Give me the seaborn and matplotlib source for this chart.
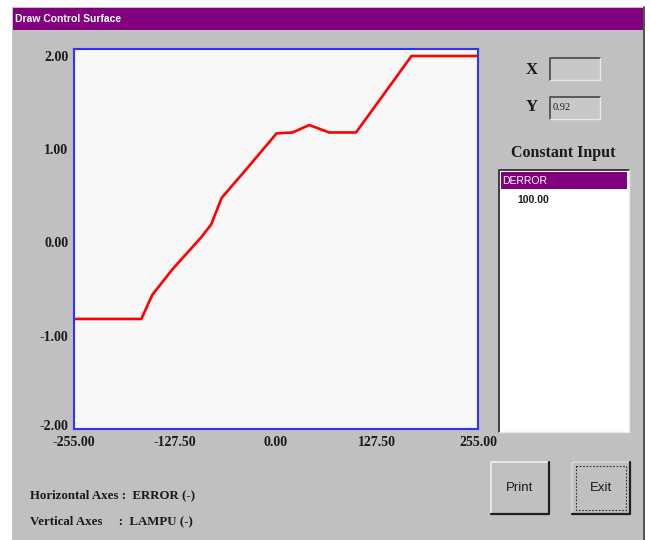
import numpy as np
import pandas as pd
import matplotlib
matplotlib.use("Agg")
import matplotlib.pyplot as plt
import matplotlib.patches as mpatches
import matplotlib.transforms as mtransforms
import seaborn as sns

# control surface
error_vals = [-255, -170, -156, -131, -95, -82, -68.5, -36, 0.7, 21, 42, 67, 101, 131, 171, 255]
lampu_vals = [-0.82, -0.82, -0.56, -0.29, 0.05, 0.19, 0.48, 0.80, 1.17, 1.18, 1.26, 1.18, 1.18, 1.53, 2.00, 2.00]

x_ticks = [-255, -127.5, 0, 127.5, 255]
x_labels = ["-255.00", "-127.50", "0.00", "127.50", "255.00"]
y_ticks = [-2, -1, 0, 1, 2]
y_labels = ["-2.00", "-1.00", "0.00", "1.00", "2.00"]

df = pd.DataFrame({"ERROR": error_vals, "LAMPU": lampu_vals})

sns.set_style("white")
plt.rcParams["font.family"] = ["Liberation Serif", "DejaVu Serif"]

W, H = 650, 540
fig = plt.figure(figsize=(6.5, 5.4), dpi=100)
fig.patch.set_facecolor("white")

GRAY = "#c0c0c0"
PURPLE = "#800080"
DARK = "#1a1a1a"
SERIF = ["Liberation Serif", "DejaVu Serif"]
SANS = ["Liberation Sans", "DejaVu Sans"]

# background axes in pixel coords for the dialog window
bg = fig.add_axes([0, 0, 1, 1])
bg.set_xlim(0, W)
bg.set_ylim(H, 0)
bg.axis("off")


def rect(x0, y0, x1, y1, **kw):
    bg.add_patch(mpatches.Rectangle((x0, y0), x1 - x0, y1 - y0, **kw))


def line(xs, ys, **kw):
    bg.plot(xs, ys, **kw)


# dialog body + title bar
rect(12, 7, 645, 541, facecolor=GRAY, edgecolor="none")
line([644, 644], [7, 541], color="#404040", lw=1.2)
rect(13, 8, 643, 30, facecolor=PURPLE, edgecolor="none")
bg.text(15, 19.5, "Draw Control Surface", color="white", fontsize=7.5,
        fontweight="bold", va="center", ha="left", family=SANS)

# X / Y readout boxes
bg.text(532, 70, "X", fontsize=12, fontweight="bold", va="center", ha="center",
        color=DARK, family=SERIF)
bg.text(532, 107, "Y", fontsize=12, fontweight="bold", va="center", ha="center",
        color=DARK, family=SERIF)
for y0, y1 in [(58, 80), (97, 119)]:
    rect(550, y0, 600, y1, facecolor="#c8c8c8", edgecolor="none")
    line([550, 550, 600], [y1, y0, y0], color="#505050", lw=1.3)
    line([550, 600, 600], [y1, y1, y0], color="#e8e8e8", lw=1.0)
bg.text(553, 108, "0.92", fontsize=7.5, va="center", ha="left", color=DARK,
        family=SERIF)

# constant input list
bg.text(563, 153, "Constant Input", fontsize=11.5, fontweight="bold",
        va="center", ha="center", color=DARK, family=SERIF)
rect(499, 170, 629, 432, facecolor="white", edgecolor="none")
line([499, 499, 629], [432, 170, 170], color="#303030", lw=1.3)
line([499, 629, 629], [432, 432, 170], color="#e8e8e8", lw=1.0)
rect(501, 172, 627, 189, facecolor=PURPLE, edgecolor="none")
bg.text(502, 181, "DERROR", color="white", fontsize=7.5, va="center",
        ha="left", family=SANS)
bg.text(517, 200, "100.00", color=DARK, fontsize=7.5, fontweight="bold",
        va="center", ha="left", family=SANS)

# buttons
for x0, x1, label in [(491, 549, "Print"), (572, 630, "Exit")]:
    rect(x0, 462, x1, 514, facecolor=GRAY, edgecolor="none")
    line([x0, x0, x1], [514, 462, 462], color="#f0f0f0", lw=1.2)
    line([x0, x1, x1], [514, 514, 462], color="#202020", lw=1.6)
    bg.text((x0 + x1) / 2, 488, label, fontsize=9.5, va="center", ha="center",
            color=DARK, family=SANS)
rect(572, 462, 630, 514, facecolor="none", edgecolor="#202020", lw=1.2)
rect(576, 466, 626, 510, facecolor="none", edgecolor="#303030", lw=0.8,
     linestyle=(0, (1.5, 1.5)))

# axes description
bg.text(30, 495, "Horizontal Axes :  ERROR (-)", fontsize=9.3, fontweight="bold",
        va="center", ha="left", color=DARK, family=SERIF)
bg.text(30, 521, "Vertical Axes     :  LAMPU (-)", fontsize=9.3, fontweight="bold",
        va="center", ha="left", color=DARK, family=SERIF)

# the control surface plot
ax = fig.add_axes([74 / W, 1 - 429 / H, (478 - 74) / W, (429 - 49) / H])
ax.set_facecolor("#f8f8f8")
sns.lineplot(data=df, x="ERROR", y="LAMPU", ax=ax, color="#ff0000",
             linewidth=1.9, sort=False)
ax.set_xlim(-255, 255)
ax.set_ylim(-2, 2.075)
ax.set_xticks(x_ticks)
ax.set_xticklabels(x_labels)
ax.set_yticks(y_ticks)
ax.set_yticklabels(y_labels)
ax.set_xlabel("")
ax.set_ylabel("")
for s in ax.spines.values():
    s.set_color("#3030ff")
    s.set_linewidth(1.5)
    s.set_visible(True)
ax.tick_params(axis="both", direction="out", length=3, width=1.5,
               color="#3030ff", labelcolor=DARK, labelsize=10, pad=1)
ax.tick_params(axis="x", pad=2)
for t in ax.get_xticklabels() + ax.get_yticklabels():
    t.set_fontweight("bold")
    t.set_family(SERIF)

# lift the bottom y label a little so it clears "-255.00"
low = ax.get_yticklabels()[0]
low.set_transform(low.get_transform() +
                  mtransforms.ScaledTranslation(0, 3 / 72, fig.dpi_scale_trans))

fig.savefig("out.png", dpi=100)
